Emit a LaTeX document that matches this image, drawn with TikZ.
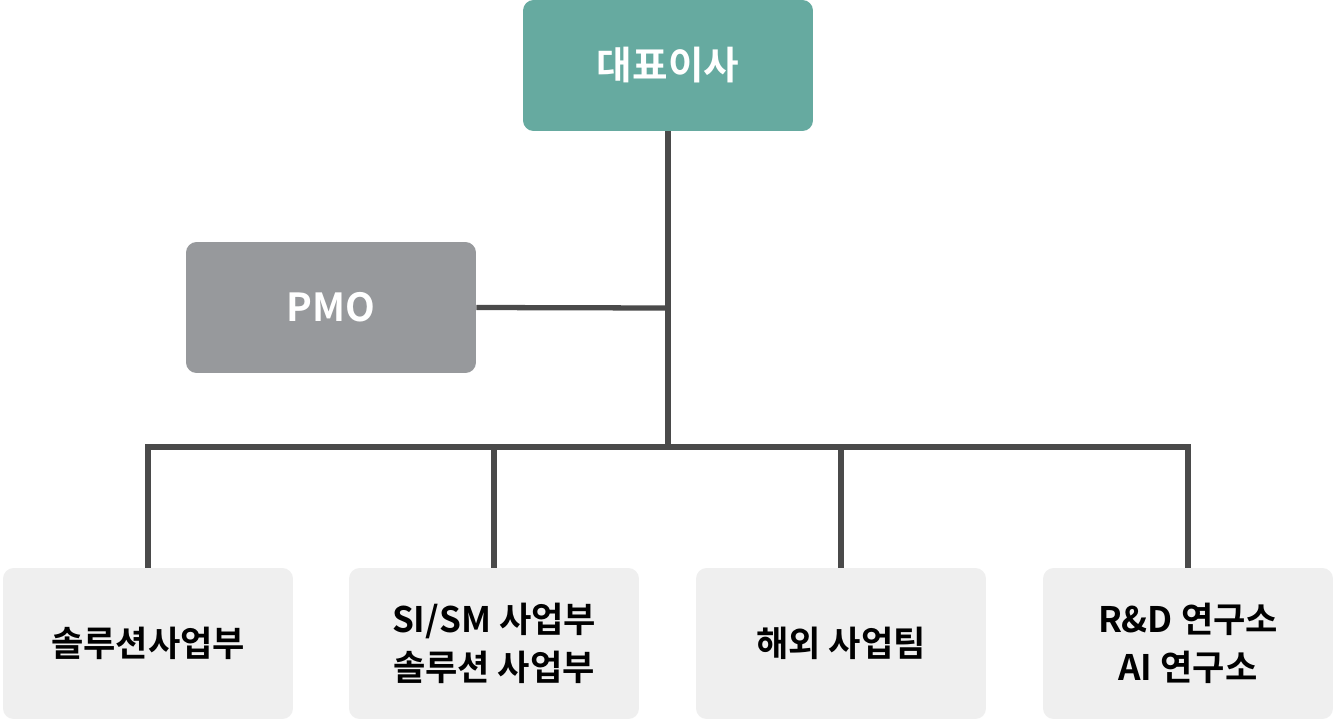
\documentclass[tikz,border=0pt]{standalone}
\usepackage{fontspec}
\setmainfont{Noto Sans CJK KR}[BoldFont={* Bold}]
\definecolor{ceo}{HTML}{66AAA0}
\definecolor{pmo}{HTML}{97999C}
\definecolor{dept}{HTML}{EFEFEF}
\definecolor{wire}{HTML}{4A4A4A}
\begin{document}
\begin{tikzpicture}[x=0.02cm,y=-0.02cm,
  box/.style={rounded corners=6pt, minimum width=5.8cm, inner sep=0pt, align=center},
  top/.style={box, fill=ceo, text=white, minimum height=2.62cm, font=\fontsize{22}{26}\selectfont\bfseries},
  side/.style={box, fill=pmo, text=white, minimum height=2.62cm, font=\fontsize{22}{26}\selectfont\bfseries},
  unit/.style={box, fill=dept, minimum height=3.02cm, font=\fontsize{20}{27}\selectfont\bfseries},
  wire/.style={draw=wire, line width=3pt}]
  \useasboundingbox (0,0) rectangle (1336,721);
  \node[top] (ceo) at (668,65.5) {대표이사};
  \node[side] (pmo) at (331,307.5) {PMO};
  \node[unit] (sol) at (148,643.5) {솔루션사업부};
  \node[unit] (si) at (494,643.5) {SI/SM 사업부\\솔루션 사업부};
  \node[unit] (glob) at (841,643.5) {해외 사업팀};
  \node[unit] (rnd) at (1188,643.5) {R\&D 연구소\\AI 연구소};
  \coordinate (hub) at (668,447);
  \coordinate (tap) at (668,308);
  \draw[wire] (ceo.south) -- (hub);
  \draw[wire] (pmo.east) -- (tap);
  \draw[wire] (sol.north) |- (hub) -| (rnd.north);
  \draw[wire] (si.north) -- (si.north |- hub);
  \draw[wire] (glob.north) -- (glob.north |- hub);
\end{tikzpicture}
\end{document}
